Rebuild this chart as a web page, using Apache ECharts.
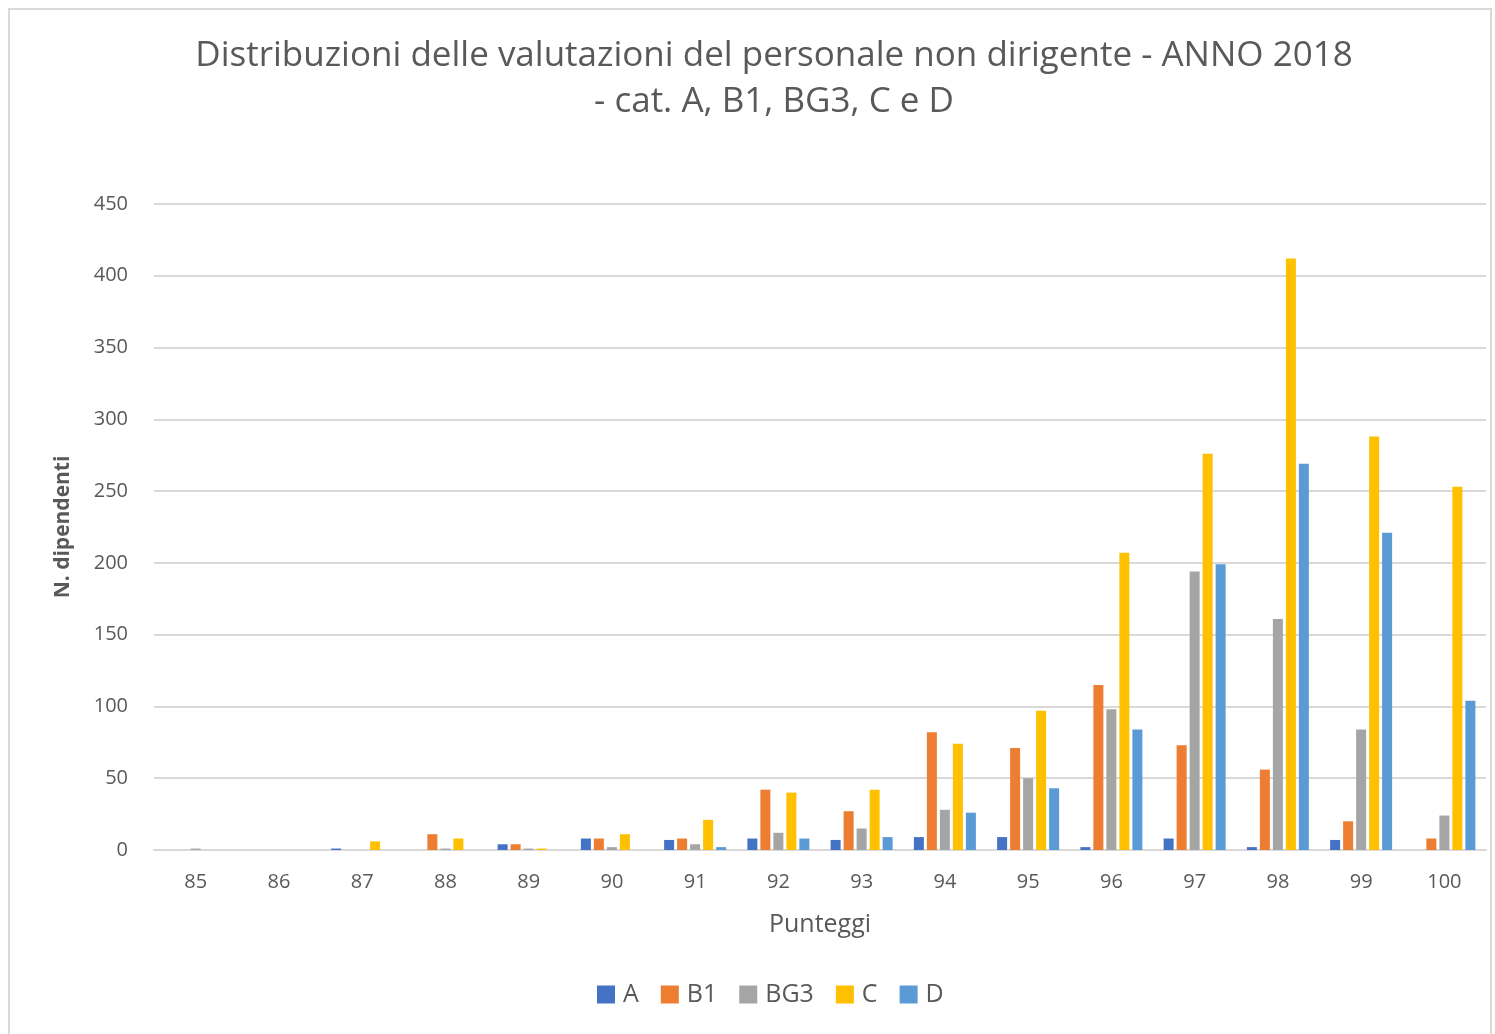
<!DOCTYPE html>
<html lang="it">
<head>
<meta charset="utf-8">
<title>Distribuzioni delle valutazioni</title>
<script src="https://cdn.jsdelivr.net/npm/echarts@6/dist/echarts.min.js"></script>
<style>
  html, body { margin: 0; padding: 0; background: #fff; }
  #main { width: 1495px; height: 1034px; }
</style>
</head>
<body>
<div id="main"></div>
<script>
// punteggi (categorie asse x)
var punteggi = ['85','86','87','88','89','90','91','92','93','94','95','96','97','98','99','100'];

// numero dipendenti per categoria
var catA   = [0, 0, 1, 0, 4, 8, 7, 8, 7, 9, 9, 2, 8, 2, 7, 0];
var catB1  = [0, 0, 0, 11, 4, 8, 8, 42, 27, 82, 71, 115, 73, 56, 20, 8];
var catBG3 = [1, 0, 0, 1, 1, 2, 4, 12, 15, 28, 50, 98, 194, 161, 84, 24];
var catC   = [0, 0, 6, 8, 1, 11, 21, 40, 42, 74, 97, 207, 276, 412, 288, 253];
var catD   = [0, 0, 0, 0, 0, 0, 2, 8, 9, 26, 43, 84, 199, 269, 221, 104];

var names  = ['A', 'B1', 'BG3', 'C', 'D'];
var colori = ['#4472C4', '#ED7D31', '#A5A5A5', '#FFC000', '#5B9BD5'];
var valori = [catA, catB1, catBG3, catC, catD];

var chart = echarts.init(document.getElementById('main'));
var testo = '#595959';
var font = '"Open Sans", "Liberation Sans", sans-serif';

var option = {
  animation: false,
  color: colori,
  textStyle: { fontFamily: font },
  title: {
    text: 'Distribuzioni delle valutazioni del personale non dirigente - ANNO 2018\n- cat. A, B1, BG3, C e D',
    left: 769,
    textAlign: 'center',
    top: 28,
    textStyle: { color: testo, fontSize: 35, fontWeight: 'normal', lineHeight: 46, fontFamily: font }
  },
  graphic: [{
    type: 'rect',
    shape: { x: 9, y: 9, width: 1482, height: 1040 },
    style: { fill: 'none', stroke: '#d9d9d9', lineWidth: 2 },
    silent: true
  }],
  legend: {
    data: names,
    bottom: 22,
    left: 592,
    itemWidth: 18,
    itemHeight: 18,
    itemGap: 22,
    icon: 'rect',
    textStyle: { color: testo, fontSize: 25, fontFamily: font, padding: [0, 0, 0, 3] }
  },
  grid: { left: 154, right: 9, top: 204, bottom: 184, containLabel: false },
  xAxis: {
    type: 'category',
    data: punteggi,
    name: 'Punteggi',
    nameLocation: 'middle',
    nameGap: 62,
    nameTextStyle: { color: testo, fontSize: 25 },
    axisLine: { lineStyle: { color: '#d9d9d9', width: 2 } },
    axisTick: { show: false },
    axisLabel: { color: testo, fontSize: 20, margin: 22 }
  },
  yAxis: {
    type: 'value',
    min: 0,
    max: 450,
    interval: 50,
    name: 'N. dipendenti',
    nameLocation: 'middle',
    nameGap: 80,
    nameTextStyle: { color: testo, fontSize: 21, fontWeight: 'bold' },
    axisLine: { show: false },
    axisTick: { show: false },
    axisLabel: { color: testo, fontSize: 20, margin: 26 },
    splitLine: { lineStyle: { color: '#d9d9d9', width: 2 } }
  },
  series: names.map(function (n, i) {
    return {
      name: n,
      type: 'bar',
      data: valori[i],
      barWidth: 10,
      barGap: '30%'
    };
  })
};

chart.setOption(option);
</script>
</body>
</html>
